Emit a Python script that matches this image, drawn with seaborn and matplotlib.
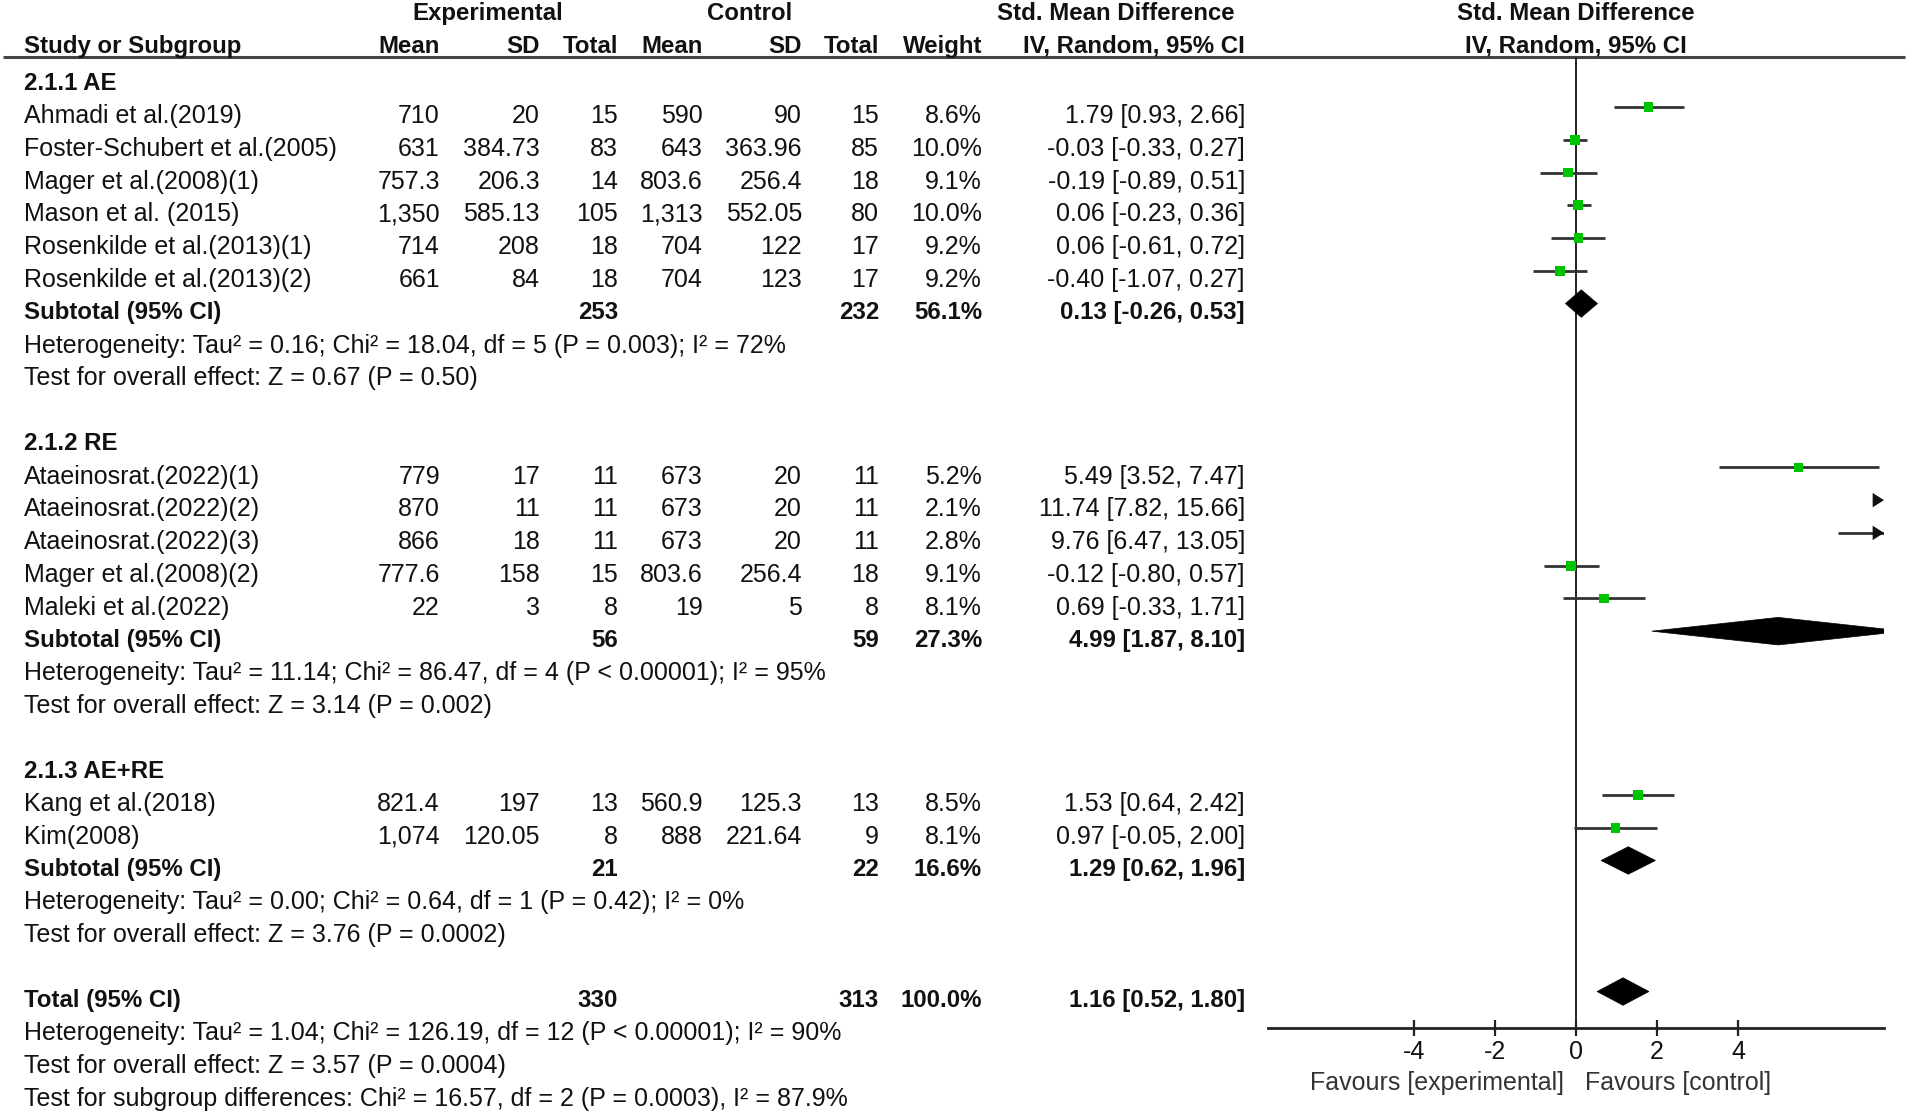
import matplotlib
matplotlib.use("Agg")
import matplotlib.pyplot as plt
from matplotlib.patches import Polygon
import numpy as np
import pandas as pd
import seaborn as sns

# ---------------- data ----------------
groups = ["2.1.1 AE", "2.1.2 RE", "2.1.3 AE+RE"]
study_group = [0, 0, 0, 0, 0, 0, 1, 1, 1, 1, 1, 2, 2]
studies = [
    "Ahmadi et al.(2019)", "Foster-Schubert et al.(2005)", "Mager et al.(2008)(1)",
    "Mason et al. (2015)", "Rosenkilde et al.(2013)(1)", "Rosenkilde et al.(2013)(2)",
    "Ataeinosrat.(2022)(1)", "Ataeinosrat.(2022)(2)", "Ataeinosrat.(2022)(3)",
    "Mager et al.(2008)(2)", "Maleki et al.(2022)",
    "Kang et al.(2018)", "Kim(2008)",
]
exp_mean = [710, 631, 757.3, 1350, 714, 661, 779, 870, 866, 777.6, 22, 821.4, 1074]
exp_sd = [20, 384.73, 206.3, 585.13, 208, 84, 17, 11, 18, 158, 3, 197, 120.05]
exp_n = [15, 83, 14, 105, 18, 18, 11, 11, 11, 15, 8, 13, 8]
ctl_mean = [590, 643, 803.6, 1313, 704, 704, 673, 673, 673, 803.6, 19, 560.9, 888]
ctl_sd = [90, 363.96, 256.4, 552.05, 122, 123, 20, 20, 20, 256.4, 5, 125.3, 221.64]
ctl_n = [15, 85, 18, 80, 17, 17, 11, 11, 11, 18, 8, 13, 9]
weight = [8.6, 10.0, 9.1, 10.0, 9.2, 9.2, 5.2, 2.1, 2.8, 9.1, 8.1, 8.5, 8.1]
smd = [1.79, -0.03, -0.19, 0.06, 0.06, -0.40, 5.49, 11.74, 9.76, -0.12, 0.69, 1.53, 0.97]
ci_lo = [0.93, -0.33, -0.89, -0.23, -0.61, -1.07, 3.52, 7.82, 6.47, -0.80, -0.33, 0.64, -0.05]
ci_hi = [2.66, 0.27, 0.51, 0.36, 0.72, 0.27, 7.47, 15.66, 13.05, 0.57, 1.71, 2.42, 2.00]

sub_exp_n = [253, 56, 21]
sub_ctl_n = [232, 59, 22]
sub_weight = [56.1, 27.3, 16.6]
sub_smd = [0.13, 4.99, 1.29]
sub_lo = [-0.26, 1.87, 0.62]
sub_hi = [0.53, 8.10, 1.96]
sub_het = [
    "Heterogeneity: Tau² = 0.16; Chi² = 18.04, df = 5 (P = 0.003); I² = 72%",
    "Heterogeneity: Tau² = 11.14; Chi² = 86.47, df = 4 (P < 0.00001); I² = 95%",
    "Heterogeneity: Tau² = 0.00; Chi² = 0.64, df = 1 (P = 0.42); I² = 0%",
]
sub_test = [
    "Test for overall effect: Z = 0.67 (P = 0.50)",
    "Test for overall effect: Z = 3.14 (P = 0.002)",
    "Test for overall effect: Z = 3.76 (P = 0.0002)",
]
total_exp_n = 330
total_ctl_n = 313
total_weight = 100.0
total_smd = 1.16
total_lo = 0.52
total_hi = 1.80
total_notes = [
    "Heterogeneity: Tau² = 1.04; Chi² = 126.19, df = 12 (P < 0.00001); I² = 90%",
    "Test for overall effect: Z = 3.57 (P = 0.0004)",
    "Test for subgroup differences: Chi² = 16.57, df = 2 (P = 0.0003), I² = 87.9%",
]
x_ticks = [-4, -2, 0, 2, 4]
x_limit = 7.6
favours = ["Favours [experimental]", "Favours [control]"]

# ---------------- style ----------------
sns.set_theme(style="white")
plt.rcParams["font.family"] = ["Liberation Sans", "DejaVu Sans"]
plt.rcParams["axes.unicode_minus"] = False

W, H = 1908, 1111
Y0, DY = 80.8, 32.76          # pixel y of row 0, pixel height of one row
TOFF = 0.08                   # text nudge (rows)
FS = 18
FSB = 17.3
TXT = "#111111"

fig = plt.figure(figsize=(W / 100, H / 100), dpi=100)
ax = fig.add_axes([0, 0, 1, 1])
ax.set_xlim(0, W)
ax.set_ylim((H - Y0) / DY, -Y0 / DY)
ax.axis("off")

top_px, axis_px = 57, 1028
fx0, fx1 = 1268, 1884
fax = fig.add_axes([fx0 / W, (H - axis_px) / H, (fx1 - fx0) / W, (axis_px - top_px) / H])
fax.patch.set_alpha(0)

cols = dict(name=24, em=440, esd=540, en=618, cm=703, csd=802, cn=879, w=982, ci=1245)


def fmt(v):
    return f"{v:,}"


def put(x, y, s, ha="right", bold=False, color=TXT):
    ax.text(x, y + TOFF, s, ha=ha, va="center", fontsize=FSB if bold else FS, color=color,
            fontweight="bold" if bold else "normal")


# headers
put(488, -2.13, "Experimental", ha="center", bold=True)
put(750, -2.13, "Control", ha="center", bold=True)
put(1116, -2.13, "Std. Mean Difference", ha="center", bold=True)
put(1576, -2.13, "Std. Mean Difference", ha="center", bold=True)
put(cols["name"], -1.14, "Study or Subgroup", ha="left", bold=True)
for key, lab in [("em", "Mean"), ("esd", "SD"), ("en", "Total"), ("cm", "Mean"),
                 ("csd", "SD"), ("cn", "Total"), ("w", "Weight"), ("ci", "IV, Random, 95% CI")]:
    put(cols[key], -1.14, lab, bold=True)
put(1576, -1.14, "IV, Random, 95% CI", ha="center", bold=True)
ax.plot([3, 1905], [(top_px - Y0) / DY] * 2, color="#444444", lw=2.2, solid_capstyle="butt")

# rows
rows_study, rows_sub = [], []
r = 0
for g, gname in enumerate(groups):
    put(cols["name"], r, gname, ha="left", bold=True)
    r += 1
    for i in [k for k, sg in enumerate(study_group) if sg == g]:
        put(cols["name"], r, studies[i], ha="left")
        put(cols["em"], r, fmt(exp_mean[i]))
        put(cols["esd"], r, fmt(exp_sd[i]))
        put(cols["en"], r, fmt(exp_n[i]))
        put(cols["cm"], r, fmt(ctl_mean[i]))
        put(cols["csd"], r, fmt(ctl_sd[i]))
        put(cols["cn"], r, fmt(ctl_n[i]))
        put(cols["w"], r, f"{weight[i]:.1f}%")
        put(cols["ci"], r, f"{smd[i]:.2f} [{ci_lo[i]:.2f}, {ci_hi[i]:.2f}]")
        rows_study.append(r)
        r += 1
    put(cols["name"], r, "Subtotal (95% CI)", ha="left", bold=True)
    put(cols["en"], r, fmt(sub_exp_n[g]), bold=True)
    put(cols["cn"], r, fmt(sub_ctl_n[g]), bold=True)
    put(cols["w"], r, f"{sub_weight[g]:.1f}%", bold=True)
    put(cols["ci"], r, f"{sub_smd[g]:.2f} [{sub_lo[g]:.2f}, {sub_hi[g]:.2f}]", bold=True)
    rows_sub.append(r)
    r += 1
    put(cols["name"], r, sub_het[g], ha="left")
    r += 1
    put(cols["name"], r, sub_test[g], ha="left")
    r += 2

row_total = r
put(cols["name"], r, "Total (95% CI)", ha="left", bold=True)
put(cols["en"], r, fmt(total_exp_n), bold=True)
put(cols["cn"], r, fmt(total_ctl_n), bold=True)
put(cols["w"], r, f"{total_weight:.1f}%", bold=True)
put(cols["ci"], r, f"{total_smd:.2f} [{total_lo:.2f}, {total_hi:.2f}]", bold=True)
for note in total_notes:
    r += 1
    put(cols["name"], r, note, ha="left")

fav_y = (1083 - Y0) / DY - TOFF
put(1564, fav_y, favours[0], ha="right", color="#333333")
put(1585, fav_y, favours[1], ha="left", color="#333333")

# ---------------- forest panel ----------------
OFF = -0.2
df = pd.DataFrame(dict(smd=smd, lo=ci_lo, hi=ci_hi, weight=weight,
                       y=np.array(rows_study) + OFF))
fax.axvline(0, color="#222222", lw=1.4, zorder=1)
fax.hlines(df["y"], df["lo"], df["hi"], color="#333333", lw=2.0, zorder=2)
sns.scatterplot(data=df, x="smd", y="y", size="weight", sizes=(32, 52), size_norm=(2, 10),
                marker="s", color="#00c400", edgecolor="none", legend=False, ax=fax, zorder=3)
for _, row in df.iterrows():
    if row["hi"] > x_limit:
        yy = row["y"]
        fax.add_patch(Polygon([(x_limit, yy), (x_limit - 0.28, yy - 0.22),
                               (x_limit - 0.28, yy + 0.22)], closed=True,
                              facecolor="#111111", edgecolor="none", zorder=4))

dh = 0.42
for est, lo, hi, yr in list(zip(sub_smd, sub_lo, sub_hi, rows_sub)) + [(total_smd, total_lo, total_hi, row_total)]:
    yy = yr + OFF
    fax.add_patch(Polygon([(lo, yy), (est, yy - dh), (hi, yy), (est, yy + dh)], closed=True,
                          facecolor="black", edgecolor="black", lw=0.5, zorder=4))

fax.set_xlim(-x_limit, x_limit)
fax.set_ylim((axis_px - Y0) / DY, (top_px - Y0) / DY)
fax.set_xlabel("")
fax.set_ylabel("")
fax.set_yticks([])
fax.set_xticks(x_ticks)
fax.set_xticklabels([str(t) for t in x_ticks])
for s in ["left", "right", "top"]:
    fax.spines[s].set_visible(False)
fax.spines["bottom"].set_color("#222222")
fax.spines["bottom"].set_linewidth(2.0)
fax.tick_params(axis="x", direction="inout", length=11.5, width=1.6, color="#222222",
                labelsize=FS, labelcolor="#111111", pad=3, bottom=True)

fig.savefig("out.png", dpi=100, facecolor="white")
